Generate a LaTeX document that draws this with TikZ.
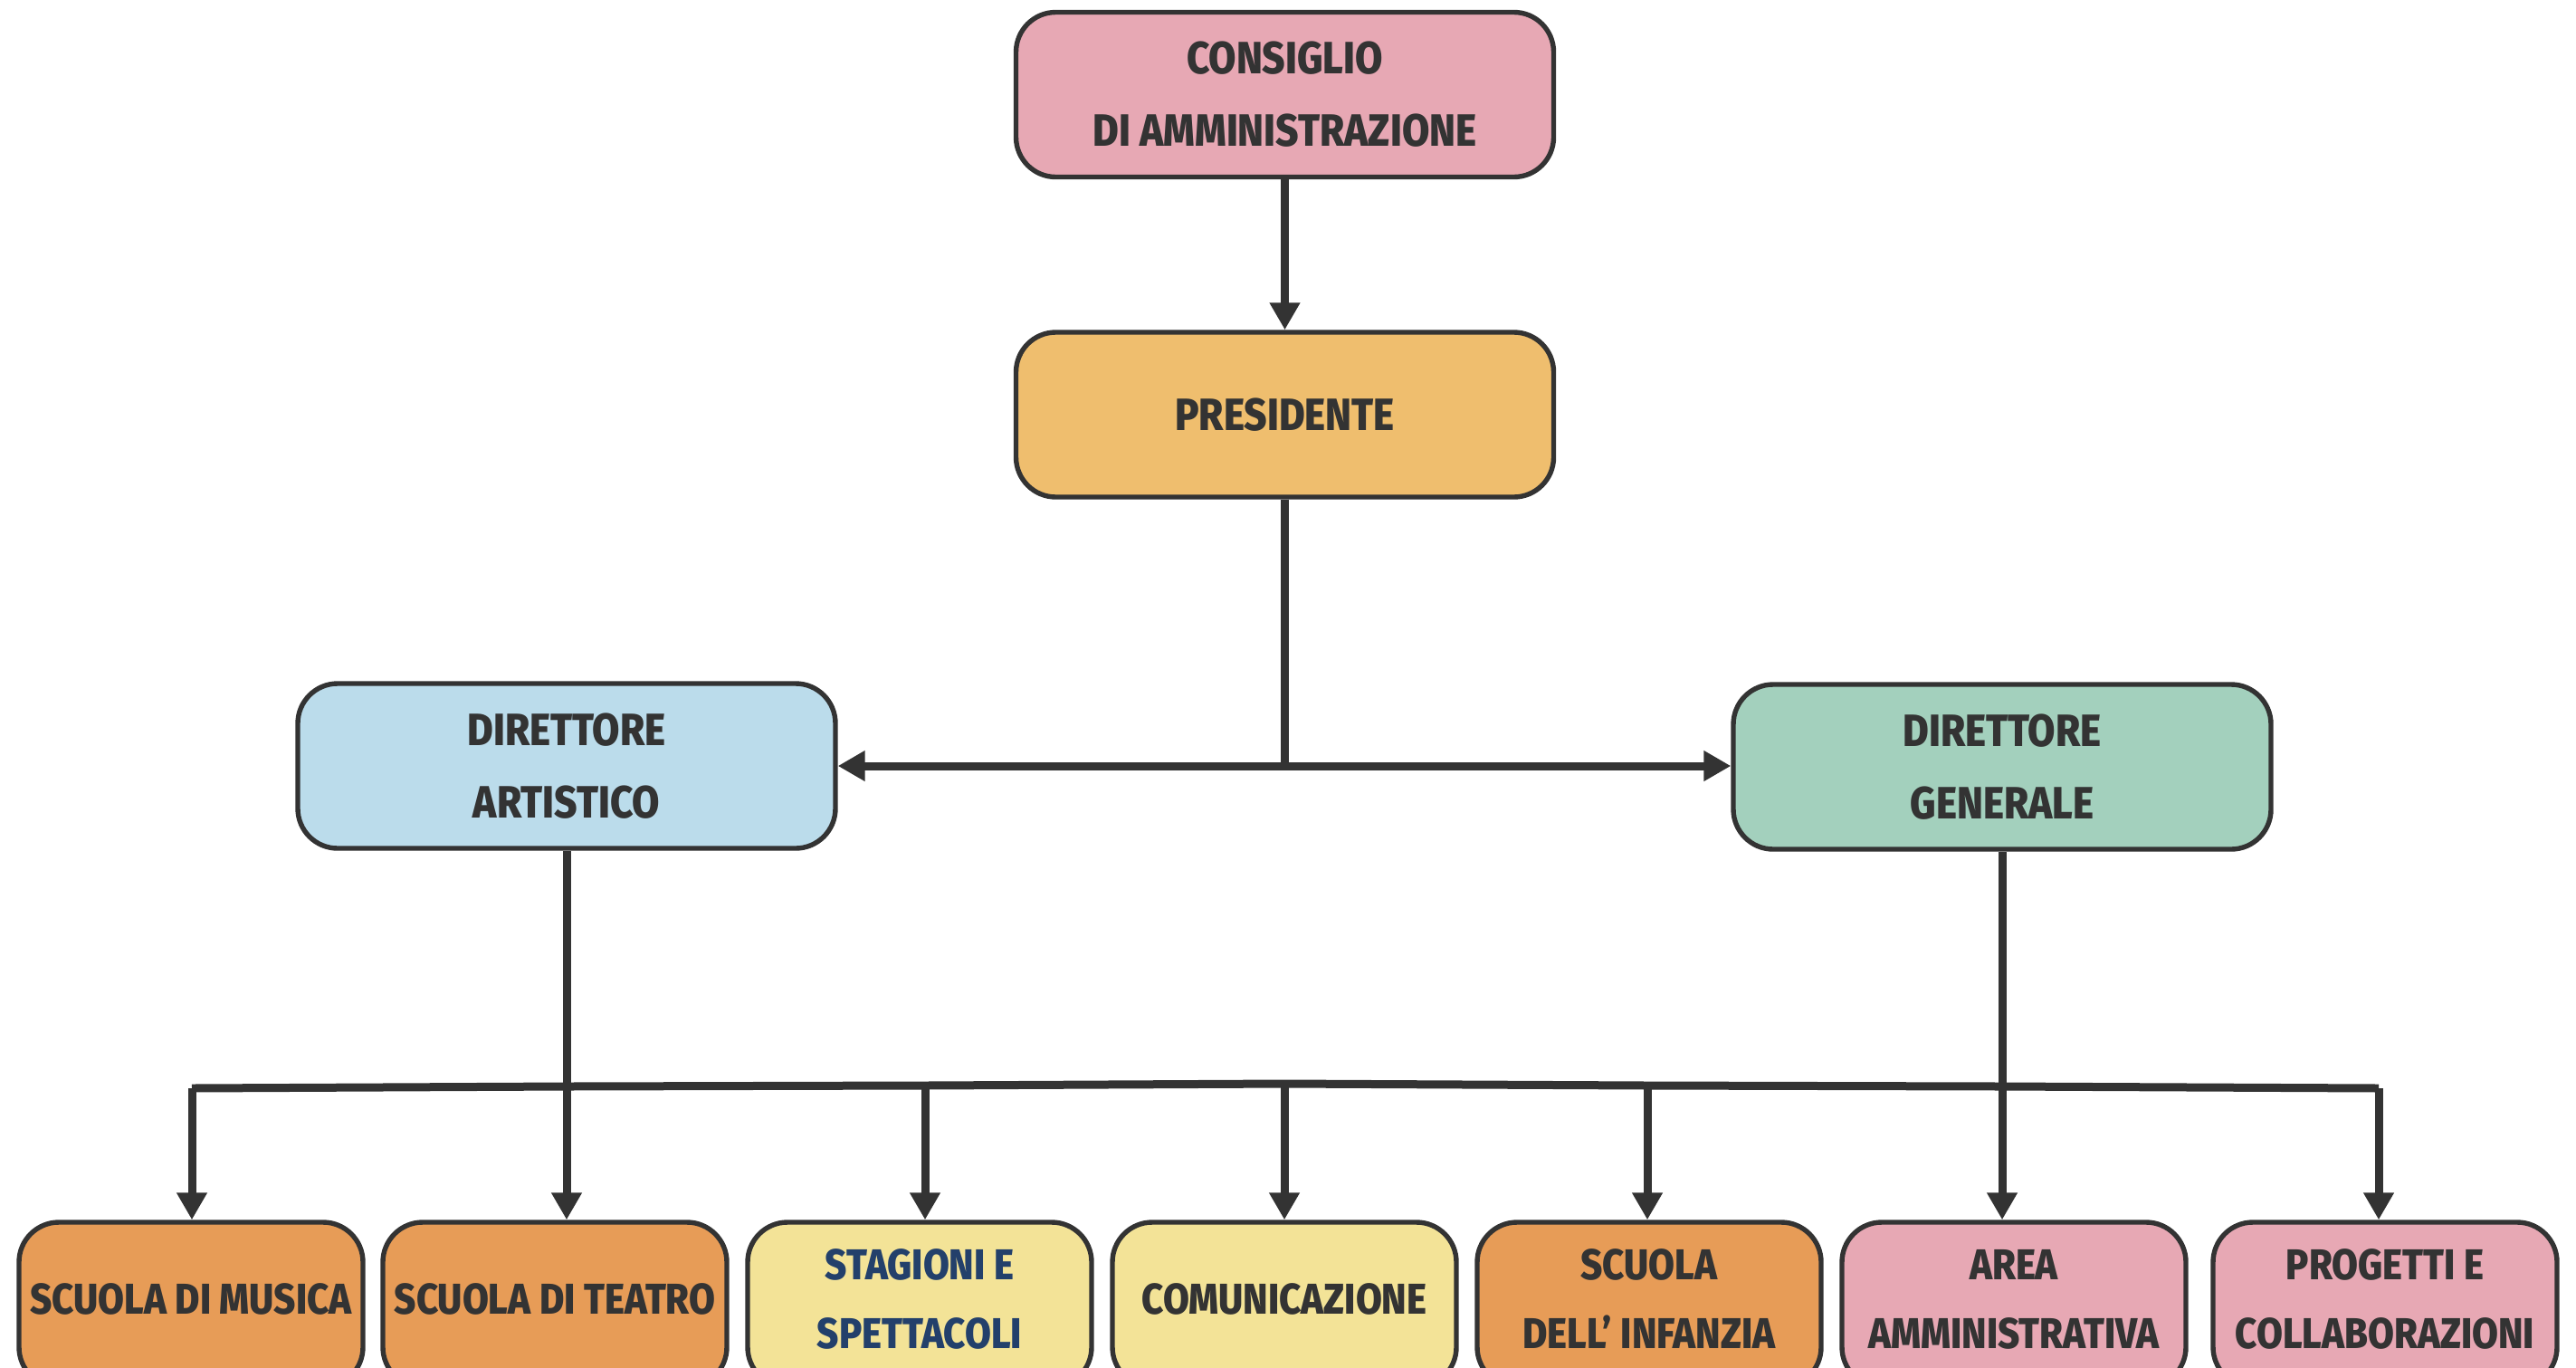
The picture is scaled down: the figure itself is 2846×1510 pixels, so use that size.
\documentclass[tikz,border=0pt]{standalone}
\usepackage{fontspec}
\newfontfamily\labfont{Fira Sans}[FakeStretch=0.88, BoldFont={Fira Sans ExtraBold}]
\usetikzlibrary{arrows.meta}
\definecolor{ink}{HTML}{333333}
\definecolor{cpink}{HTML}{E7A8B4}
\definecolor{cgold}{HTML}{EFBE6E}
\definecolor{cblue}{HTML}{BBDCEB}
\definecolor{cgreen}{HTML}{A3D0BD}
\definecolor{corange}{HTML}{E79C57}
\definecolor{cyellow}{HTML}{F3E397}
\definecolor{navy}{HTML}{23406B}
\tikzset{
  box/.style={draw=ink, line width=2.7pt, rounded corners=22pt, align=center,
    minimum width=297pt, minimum height=91pt, text=ink, inner sep=0pt,
    font=\labfont\bfseries\fontsize{25}{40}\selectfont},
  sbox/.style={box, minimum width=190pt, text depth=6pt,
    font=\labfont\bfseries\fontsize{23.8}{38}\selectfont},
  conn/.style={draw=ink, line width=4.5pt},
  arr/.style={conn, -{Triangle[length=15pt,width=16pt]}},
  arrboth/.style={conn, {Triangle[length=15pt,width=16pt]}-{Triangle[length=15pt,width=16pt]}}
}
\begin{document}
\begin{tikzpicture}[x=0.5pt,y=-0.5pt]
\useasboundingbox (0,0) rectangle (2846,1510);
\clip (0,0) rectangle (2846,1510);
\node[box, fill=cpink] (cda) at (1419.5,104.5) {CONSIGLIO\\DI AMMINISTRAZIONE};
\node[box, fill=cgold] (pres) at (1419.5,458) {PRESIDENTE};
\node[box, fill=cblue] (da) at (626,846) {DIRETTORE\\ARTISTICO};
\node[box, fill=cgreen] (dg) at (2212,847) {DIRETTORE\\GENERALE};
\node[sbox, fill=corange] (b1) at (211,1441) {SCUOLA DI MUSICA};
\node[sbox, fill=corange] (b2) at (613,1441) {SCUOLA DI TEATRO};
\node[sbox, fill=cyellow, text=navy] (b3) at (1016,1441) {STAGIONI E\\SPETTACOLI};
\node[sbox, fill=cyellow] (b4) at (1419,1441) {COMUNICAZIONE};
\node[sbox, fill=corange] (b5) at (1822,1441) {SCUOLA\\DELL’ INFANZIA};
\node[sbox, fill=cpink] (b6) at (2225,1441) {AREA\\AMMINISTRATIVA};
\node[sbox, fill=cpink] (b7) at (2635,1441) {PROGETTI E\\COLLABORAZIONI};
% top connectors
\draw[arr] (cda) -- (pres);
\coordinate (j) at (1419.5,844);
\draw[conn] (pres.south) -- (j);
\draw[arrboth] (da.east) -- (da.east -| dg.west);
% bus
\coordinate (c1) at (212,1202);
\coordinate (c2) at (626,1200);
\coordinate (c3) at (1022,1199);
\coordinate (c4) at (1419,1197);
\coordinate (c5) at (1820,1199);
\coordinate (c6) at (2212,1200);
\coordinate (c7) at (2628,1202);
\draw[conn, line join=round] (c1) -- (c2) -- (c3) -- (c4) -- (c5) -- (c6) -- (c7);
\draw[conn] (da.south) -- (c2);
\draw[conn] (dg.south) -- (c6);
\foreach \i in {1,...,7}{
  \draw[arr] (c\i) -- (c\i |- b\i.north);
}
\end{tikzpicture}
\end{document}
